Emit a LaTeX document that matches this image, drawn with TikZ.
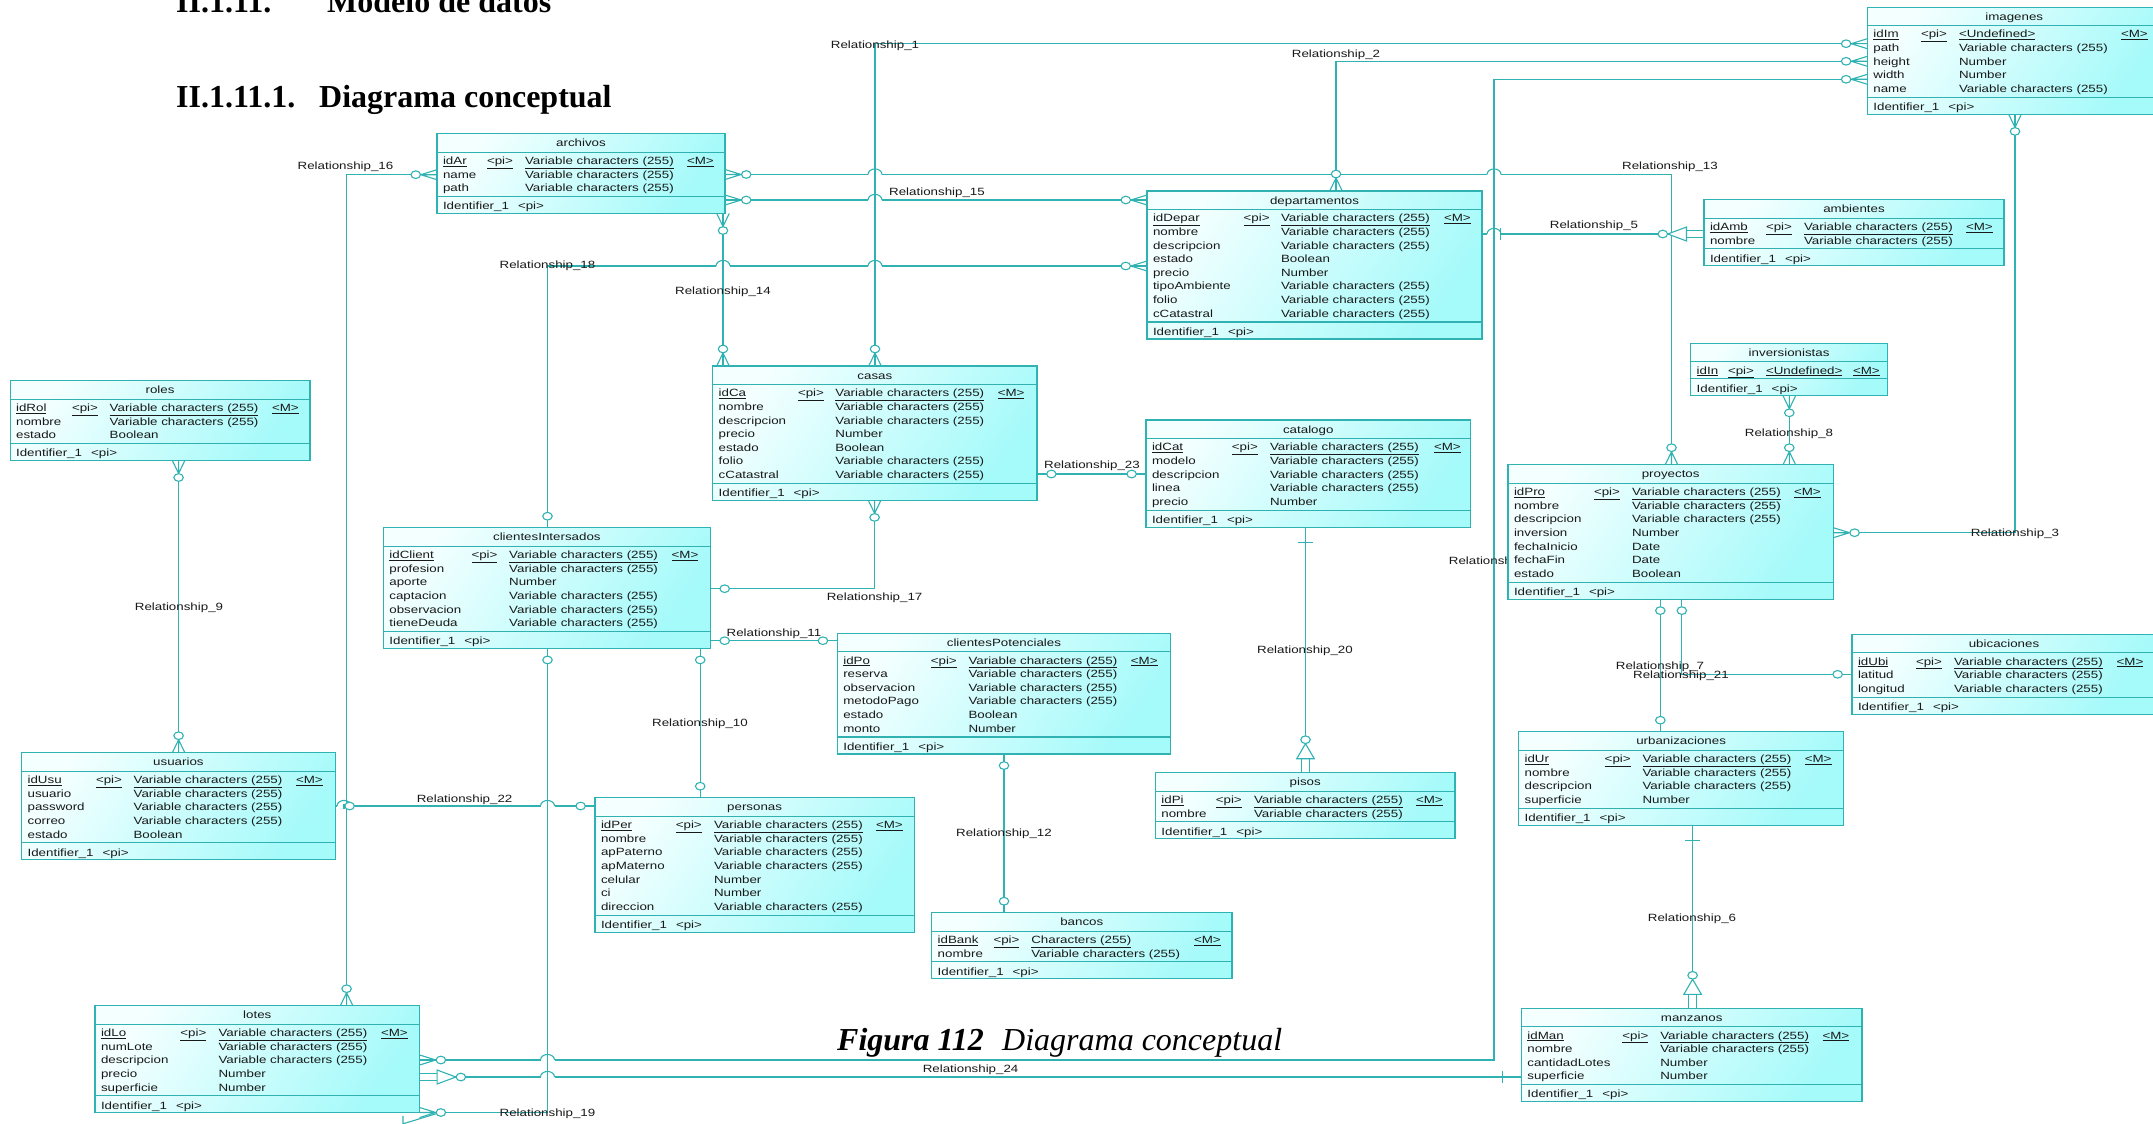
\documentclass[tikz,border=0pt]{standalone}
\usepackage{fontspec}
\setmainfont{Liberation Serif}
\newfontfamily\pdfont[FakeStretch=1.27]{Liberation Sans}
\usetikzlibrary{calc}
\definecolor{lc}{RGB}{48,178,178}
\definecolor{eA}{RGB}{244,255,255}
\definecolor{eB}{RGB}{165,250,250}
\definecolor{tx}{RGB}{25,25,25}
\pgfdeclarelayer{back}\pgfdeclarelayer{bg}\pgfsetlayers{back,bg,main}
\newcommand\etf{\pdfont\fontsize{10.5}{12}\selectfont}
\newcommand\ttlf{\fontsize{32}{36}\selectfont\bfseries}
\newcommand\vc{Variable characters (255)}
\tikzset{
  conn/.style={draw=lc,line width=1.1pt},
  entbox/.style={rectangle,draw=lc,line width=1.2pt,inner sep=0pt,outer sep=0pt,left color=eA,right color=eB,shading angle=55},
  entsep/.style={draw=lc,line width=1.2pt},
  etxt/.style={anchor=base west,inner sep=0pt,outer sep=0pt,text=tx,font=\etf},
  rlab/.style={inner sep=0pt,text=tx,font=\etf},
  ttl/.style={anchor=base west,inner sep=0pt,text=black,font=\ttlf},
  sx/.style={xscale=1.25},
  crowO/.pic={\draw[conn] (0,5)--(13,0)--(0,-5) (0,0)--(13,0); \draw[conn,fill=white] (17,0) circle[radius=3.8];},
  circO/.pic={\draw[conn,fill=white] (11.5,0) circle[radius=3.8];},
  tickm/.pic={\draw[conn] (15,-6)--(15,6);},
  identO/.pic={\fill[white] (0,-2.2) rectangle (14,2.2); \draw[conn] (0,3.2)--(14,3.2) (0,-3.2)--(14,-3.2); \draw[conn,fill=white] (14,7)--(14,-7)--(29,0)--cycle; \draw[conn,fill=white] (33,0) circle[radius=3.8];},
  jumpc/.pic={\fill[white] (-5.6,-1.3) rectangle (5.6,1.3); \draw[conn] (0,-2.5)--(0,2.5); \draw[conn] (-5.6,0) arc[start angle=180,end angle=360,radius=5.6];},
}
% entity: #1 name, #2 L, #3 T, #4 R, #5 pi x, #6 type x, #7 M x, #8 rows
\newcommand{\ent}[8]{%
  \gdef\entN{0}%
  \foreach \ea/\eb in {#8}{\xdef\entN{\the\numexpr\entN+1\relax}}%
  \pgfmathsetmacro\entSa{#3+18.5}%
  \pgfmathsetmacro\entSb{#3+35.5+13.65*(\entN-1)}%
  \pgfmathsetmacro\entB{\entSb+17}%
  \pgfmathsetmacro\entW{#4-#2}%
  \pgfmathsetmacro\entH{\entB-#3}%
  \node[entbox,minimum width=\entW pt,minimum height=\entH pt,anchor=north west] (#1) at (#2,#3) {};
  \draw[entsep] (#2,\entSa) -- (#4,\entSa) (#2,\entSb) -- (#4,\entSb);
  \node[etxt,anchor=base] (#1-h) at ({(#2+#4)/2},#3+13.2) {#1};
  \foreach \ea/\eb [count=\ei from 0] in {#8}{%
    \pgfmathsetmacro\ey{#3+30.7+13.65*\ei}%
    \ifnum\ei=0
      \node[etxt] (#1-a\ei) at (#2+6,\ey) {\underline{\ea}};
      \node[etxt] (#1-pi) at (#5,\ey) {\underline{<pi>}};
      \node[etxt] (#1-b\ei) at (#6,\ey) {\underline{\eb}};
      \node[etxt] (#1-m) at (#7,\ey) {\underline{<M>}};
    \else
      \node[etxt] (#1-a\ei) at (#2+6,\ey) {\ea};
      \node[etxt] (#1-b\ei) at (#6,\ey) {\eb};
    \fi
  }%
  \node[etxt] (#1-id) at (#2+6,\entSb+13.2) {Identifier\_1};
  \node[etxt] (#1-idp) at (#2+81,\entSb+13.2) {<pi>};
}
\newcommand\symb[3]{\pic[sx,rotate=#2] at (#1) {#3};}
\begin{document}
\begin{tikzpicture}[x=1pt,y=-1pt]
\useasboundingbox (0,0) rectangle (2153,1124);
\begin{pgfonlayer}{back}\fill[white] (0,0) rectangle (2153,1124);\end{pgfonlayer}

% titles
\node[ttl] (t1a) at (176,13) {II.1.11.};
\node[ttl] (t1b) at (327,13) {Modelo de datos};
\node[ttl] (t2a) at (176,107) {II.1.11.1.};
\node[ttl] (t2b) at (319,107) {Diagrama conceptual};
\node[anchor=base west,inner sep=0pt,font=\fontsize{32}{36}\selectfont\bfseries\itshape] (cap1) at (837,1050) {Figura 112};
\node[anchor=base west,inner sep=0pt,font=\fontsize{32}{36}\selectfont\itshape] (cap2) at (1002,1050) {Diagrama conceptual};

% entities
\ent{archivos}{437}{133.7}{725}{487}{525}{687}{idAr/\vc, name/\vc, path/\vc}
\ent{imagenes}{1867.4}{7.3}{2161}{1921}{1959}{2121}{idIm/<Undefined>, path/\vc, height/Number, width/Number, name/\vc}
\ent{departamentos}{1147}{191}{1482}{1243.6}{1281}{1444}{idDepar/\vc, nombre/\vc, descripcion/\vc, estado/Boolean, precio/Number, tipoAmbiente/\vc, folio/\vc, cCatastral/\vc}
\ent{ambientes}{1704}{199.7}{2004}{1766}{1804}{1966}{idAmb/\vc, nombre/\vc}
\ent{inversionistas}{1690.7}{343.3}{1887.5}{1728}{1766}{1853}{idIn/<Undefined>}
\ent{proyectos}{1508}{464.7}{1833.3}{1594}{1632}{1794}{idPro/\vc, nombre/\vc, descripcion/\vc, inversion/Number, fechaInicio/Date, fechaFin/Date, estado/Boolean}
\ent{ubicaciones}{1852}{634.3}{2156}{1916}{1954}{2116.6}{idUbi/\vc, latitud/\vc, longitud/\vc}
\ent{urbanizaciones}{1518.6}{731.7}{1843.6}{1604.7}{1642.5}{1804.8}{idUr/\vc, nombre/\vc, descripcion/\vc, superficie/Number}
\ent{manzanos}{1521.4}{1008.3}{1862}{1622.4}{1660.3}{1822.5}{idMan/\vc, nombre/\vc, cantidadLotes/Number, superficie/Number}
\ent{pisos}{1155.4}{772.7}{1455}{1215.8}{1254}{1416}{idPi/\vc, nombre/\vc}
\ent{bancos}{931.7}{912.7}{1231.9}{993.5}{1031.3}{1194}{idBank/Characters (255), nombre/\vc}
\ent{catalogo}{1146}{420}{1470.5}{1231.9}{1270}{1434}{idCat/\vc, modelo/\vc, descripcion/\vc, linea/\vc, precio/Number}
\ent{casas}{712.7}{366}{1037}{798}{835.4}{997.8}{idCa/\vc, nombre/\vc, descripcion/\vc, precio/Number, estado/Boolean, folio/\vc, cCatastral/\vc}
\ent{clientesIntersados}{383.4}{527.7}{710.3}{471.5}{509.2}{671.7}{idClient/\vc, profesion/\vc, aporte/Number, captacion/\vc, observacion/\vc, tieneDeuda/\vc}
\ent{clientesPotenciales}{837.3}{633.3}{1170.5}{930.8}{968.5}{1130.9}{idPo/\vc, reserva/\vc, observacion/\vc, metodoPago/\vc, estado/Boolean, monto/Number}
\ent{personas}{595}{797.7}{914.3}{675.8}{714}{876}{idPer/\vc, nombre/\vc, apPaterno/\vc, apMaterno/\vc, celular/Number, ci/Number, direccion/\vc}
\ent{roles}{10.1}{380.7}{310}{72}{109.7}{272}{idRol/\vc, nombre/\vc, estado/Boolean}
\ent{usuarios}{21.6}{752.7}{335.2}{96}{133.6}{296}{idUsu/\vc, usuario/\vc, password/\vc, correo/\vc, estado/Boolean}
\ent{lotes}{95}{1005.7}{419.6}{180.4}{218.5}{381}{idLo/\vc, numLote/\vc, descripcion/\vc, precio/Number, superficie/Number}

\begin{pgfonlayer}{bg}
% end points
\coordinate (r1a) at (casas.north -| 875,0);          \coordinate (r1b) at (imagenes.west |- 0,43.7);
\coordinate (r2a) at (departamentos.north -| 1336,0); \coordinate (r2b) at (imagenes.west |- 0,61.3);
\coordinate (r3a) at (proyectos.east |- 0,532.7);     \coordinate (r3b) at (imagenes.south -| 2015,0);
\coordinate (r4a) at (lotes.east |- 0,1060);          \coordinate (r4b) at (imagenes.west |- 0,79.3);
\coordinate (r5a) at (departamentos.east |- 0,234);   \coordinate (r5b) at (ambientes.west |- 0,234);
\coordinate (r6a) at (urbanizaciones.south -| 1692.6,0); \coordinate (r6b) at (manzanos.north -| 1692.6,0);
\coordinate (r7a) at (proyectos.south -| 1660.3,0);   \coordinate (r7b) at (urbanizaciones.north -| 1660.3,0);
\coordinate (r8a) at (inversionistas.south -| 1789.3,0); \coordinate (r8b) at (proyectos.north -| 1789.3,0);
\coordinate (r9a) at (roles.south -| 178.6,0);        \coordinate (r9b) at (usuarios.north -| 178.6,0);
\coordinate (r10a) at (clientesIntersados.south -| 700.2,0); \coordinate (r10b) at (personas.north -| 700.2,0);
\coordinate (r11a) at (clientesIntersados.east |- 0,640.7); \coordinate (r11b) at (clientesPotenciales.west |- 0,640.7);
\coordinate (r12a) at (clientesPotenciales.south -| 1004,0); \coordinate (r12b) at (bancos.north -| 1004,0);
\coordinate (r13a) at (archivos.east |- 0,174.5);     \coordinate (r13b) at (proyectos.north -| 1671.5,0);
\coordinate (r14a) at (archivos.south -| 723,0);      \coordinate (r14b) at (casas.north -| 723,0);
\coordinate (r15a) at (archivos.east |- 0,200);       \coordinate (r15b) at (departamentos.west |- 0,200);
\coordinate (r16a) at (archivos.west |- 0,174.7);     \coordinate (r16b) at (lotes.north -| 346.6,0);
\coordinate (r17a) at (casas.south -| 874.6,0);       \coordinate (r17b) at (clientesIntersados.east |- 0,588.7);
\coordinate (r18a) at (departamentos.west |- 0,266);  \coordinate (r18b) at (clientesIntersados.north -| 547.5,0);
\coordinate (r19a) at (clientesIntersados.south -| 547.5,0); \coordinate (r19b) at (lotes.east |- 0,1112.5);
\coordinate (r20a) at (catalogo.south -| 1305.5,0);   \coordinate (r20b) at (pisos.north -| 1305.5,0);
\coordinate (r21a) at (proyectos.south -| 1681.8,0);  \coordinate (r21b) at (ubicaciones.west |- 0,674.3);
\coordinate (r22a) at (usuarios.east |- 0,806);       \coordinate (r22b) at (personas.west |- 0,806);
\coordinate (r23a) at (casas.east |- 0,474);          \coordinate (r23b) at (catalogo.west |- 0,474);
\coordinate (r24a) at (lotes.east |- 0,1077);         \coordinate (r24b) at (manzanos.west |- 0,1077);

% connectors
\draw[conn] (r1a) |- (r1b);
\draw[conn] (r2a) |- (r2b);
\draw[conn] (r3a) -| (r3b);
\draw[conn] (r4a) -| (1494,79.3) -- (r4b);
\draw[conn] (r5a) -- (r5b);
\draw[conn] (r6a) -- (r6b);
\draw[conn] (r7a) -- (r7b);
\draw[conn] (r8a) -- (r8b);
\draw[conn] (r9a) -- (r9b);
\draw[conn] (r10a) -- (r10b);
\draw[conn] (r11a) -- (r11b);
\draw[conn] (r12a) -- (r12b);
\draw[conn] (r13a) -| (r13b);
\draw[conn] (r14a) -- (r14b);
\draw[conn] (r15a) -- (r15b);
\draw[conn] (r16a) -| (r16b);
\draw[conn] (r17a) |- (r17b);
\draw[conn] (r18a) -| (r18b);
\draw[conn] (r19a) |- (r19b);
\draw[conn] (r20a) -- (r20b);
\draw[conn] (r21a) |- (r21b);
\draw[conn] (r22a) -- (r22b);
\draw[conn] (r23a) -- (r23b);
\draw[conn] (r24a) -- (r24b);
\draw[conn] ([shift={(-16.6,3)}]lotes.south east) -- ++(0,8) -- ++(33,-10);

% line jumps
\foreach \jx/\jy in {875/174.5,1494/174.5,875/200,723/266,875/266,1494/234,344/806,547.5/806,547.5/1060,547.5/1077}
  {\pic[sx] at (\jx,\jy) {jumpc};}

% end symbols
\symb{r1a}{90}{crowO} \symb{r1b}{180}{crowO}
\symb{r2a}{90}{crowO} \symb{r2b}{180}{crowO}
\symb{r3a}{0}{crowO} \symb{r3b}{-90}{crowO}
\symb{r4a}{0}{crowO} \symb{r4b}{180}{crowO}
\symb{r5a}{0}{tickm} \symb{r5b}{180}{identO}
\symb{r6a}{-90}{tickm} \symb{r6b}{90}{identO}
\symb{r7a}{-90}{circO} \symb{r7b}{90}{circO}
\symb{r8a}{-90}{crowO} \symb{r8b}{90}{crowO}
\symb{r9a}{-90}{crowO} \symb{r9b}{90}{crowO}
\symb{r10a}{-90}{circO} \symb{r10b}{90}{circO}
\symb{r11a}{0}{circO} \symb{r11b}{180}{circO}
\symb{r12a}{-90}{circO} \symb{r12b}{90}{circO}
\symb{r13a}{0}{crowO} \symb{r13b}{90}{crowO}
\symb{r14a}{-90}{crowO} \symb{r14b}{90}{crowO}
\symb{r15a}{0}{crowO} \symb{r15b}{180}{crowO}
\symb{r16a}{180}{crowO} \symb{r16b}{90}{crowO}
\symb{r17a}{-90}{crowO} \symb{r17b}{0}{circO}
\symb{r18a}{180}{crowO} \symb{r18b}{90}{circO}
\symb{r19a}{-90}{circO} \symb{r19b}{0}{crowO}
\symb{r20a}{-90}{tickm} \symb{r20b}{90}{identO}
\symb{r21a}{-90}{circO} \symb{r21b}{180}{circO}
\symb{r22a}{0}{circO} \symb{r22b}{180}{circO}
\symb{r23a}{0}{circO} \symb{r23b}{180}{circO}
\symb{r24a}{0}{identO} \symb{r24b}{180}{tickm}

% labels
\node[rlab] (l1) at (875,45.7) {Relationship\_1};
\node[rlab] (l2) at (1336,54.3) {Relationship\_2};
\node[rlab] (l3) at (2015,533.3) {Relationship\_3};
\node[rlab] (l4) at (1493,562) {Relationship\_4};
\node[rlab] (l5) at (1594,226) {Relationship\_5};
\node[rlab] (l6) at (1692,918.3) {Relationship\_6};
\node[rlab] (l7) at (1660,666.7) {Relationship\_7};
\node[rlab] (l8) at (1789,433.3) {Relationship\_8};
\node[rlab] (l9) at (179,607.3) {Relationship\_9};
\node[rlab] (l10) at (700,724) {Relationship\_10};
\node[rlab] (l11) at (774,633.3) {Relationship\_11};
\node[rlab] (l12) at (1004,833.3) {Relationship\_12};
\node[rlab] (l13) at (1670,166.7) {Relationship\_13};
\node[rlab] (l14) at (723,291.7) {Relationship\_14};
\node[rlab] (l15) at (937,192.3) {Relationship\_15};
\node[rlab] (l16) at (345.5,166.7) {Relationship\_16};
\node[rlab] (l17) at (874.6,597.3) {Relationship\_17};
\node[rlab] (l18) at (547.5,266) {Relationship\_18};
\node[rlab] (l19) at (547.5,1114) {Relationship\_19};
\node[rlab] (l20) at (1305,651) {Relationship\_20};
\node[rlab] (l21) at (1681,675.3) {Relationship\_21};
\node[rlab] (l22) at (464.6,799.3) {Relationship\_22};
\node[rlab] (l23) at (1092,466) {Relationship\_23};
\node[rlab] (l24) at (970.6,1069.3) {Relationship\_24};
\end{pgfonlayer}
\end{tikzpicture}
\end{document}
